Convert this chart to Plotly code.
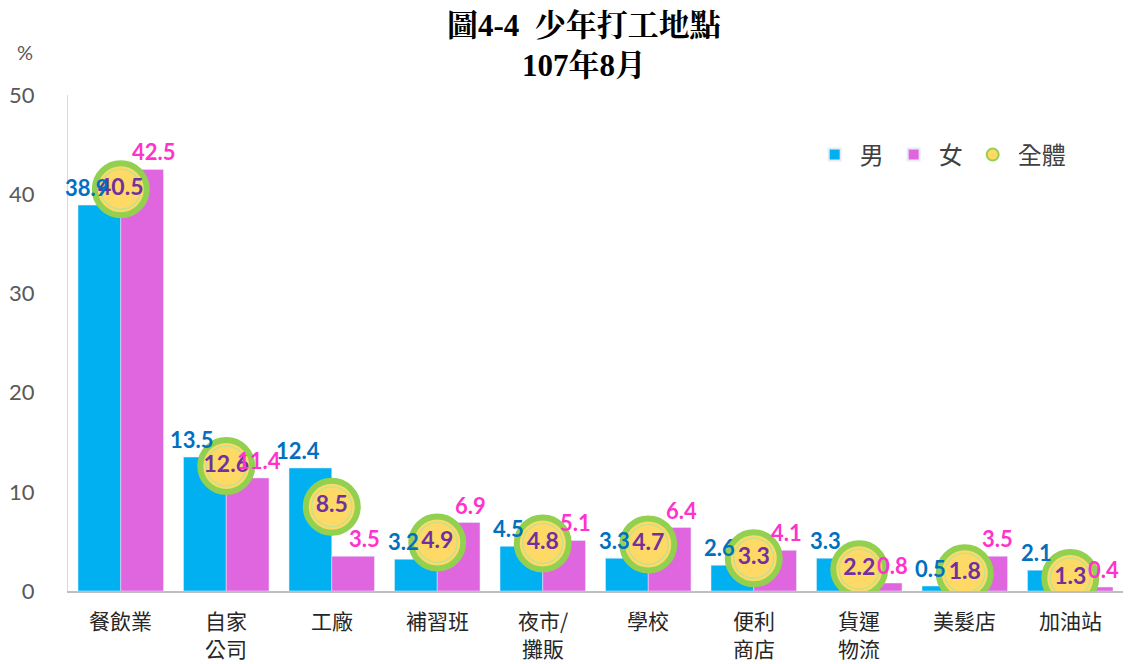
import plotly.graph_objects as go

categories = ["餐飲業", "自家<br>公司", "工廠", "補習班", "夜市/<br>攤販", "學校", "便利<br>商店", "貨運<br>物流", "美髮店", "加油站"]
male = [38.9, 13.5, 12.4, 3.2, 4.5, 3.3, 2.6, 3.3, 0.5, 2.1]
female = [42.5, 11.4, 3.5, 6.9, 5.1, 6.4, 4.1, 0.8, 3.5, 0.4]
total = [40.5, 12.6, 8.5, 4.9, 4.8, 4.7, 3.3, 2.2, 1.8, 1.3]
yticks = [0, 10, 20, 30, 40, 50]

BLUE = "#00B0F0"
MAG = "#E066E0"
BLUE_T = "#0070C0"
MAG_T = "#FF33CC"
PURPLE = "#7030A0"
GREEN = "#92D050"
YELLOW = "#FFD966"

CJK = "Noto Sans CJK TC"
NUM = "Lato, Open Sans, Noto Sans CJK TC"

fig = go.Figure()
fig.add_trace(go.Bar(x=categories, y=male, name="男", marker_color=BLUE))
fig.add_trace(go.Bar(x=categories, y=female, name="女", marker_color=MAG))

# circle markers for 全體
fig.add_trace(go.Scatter(
    x=categories, y=total, mode="markers", name="全體", showlegend=True,
    marker=dict(size=52, color=YELLOW, line=dict(color=GREEN, width=6)),
    hoverinfo="skip"))
fig.add_trace(go.Scatter(
    x=categories, y=total, mode="markers+text", showlegend=False,
    marker=dict(size=40, color=YELLOW, line=dict(color="#C6E08C", width=1.5)),
    text=[f"{v:.1f}" for v in total], textposition="middle center",
    textfont=dict(family=NUM, size=23, color=PURPLE, weight="bold"),
    hoverinfo="skip"))

# value labels for bars
for c, v in zip(categories, male):
    fig.add_annotation(x=c, y=v, text=f"{v:.1f}", showarrow=False, xref="x", yref="y",
                       xshift=-34, yanchor="bottom", yshift=2,
                       font=dict(family=NUM, size=22, color=BLUE_T, weight="bold"))
for c, v in zip(categories, female):
    fig.add_annotation(x=c, y=v, text=f"{v:.1f}", showarrow=False, xref="x", yref="y",
                       xshift=33, yanchor="bottom", yshift=2,
                       font=dict(family=NUM, size=22, color=MAG_T, weight="bold"))

# category labels (one annotation per line)
for c in categories:
    for i, line in enumerate(c.split("<br>")):
        fig.add_annotation(x=c, y=0, xref="x", yref="paper", text=line, showarrow=False,
                           xanchor="center", yanchor="middle", yshift=-29 - 28 * i,
                           font=dict(family=CJK, size=21, color="#262626"))

fig.add_annotation(x=0.489, y=1.0, xref="paper", yref="paper", yanchor="bottom", yshift=10,
                   text="<b>圖4-4  少年打工地點</b><br><b>107年8月</b>", showarrow=False,
                   font=dict(family="Liberation Serif, Noto Serif CJK TC, " + CJK, size=31, color="#000000"))
fig.add_annotation(x=-0.041, y=1.087, xref="paper", yref="paper", text="%", showarrow=False,
                   xanchor="center", yanchor="middle",
                   font=dict(family=NUM, size=20, color="#595959"))

fig.update_layout(
    width=1123, height=656,
    margin=dict(l=60, r=8, t=87, b=73, autoexpand=False),
    paper_bgcolor="white", plot_bgcolor="white",
    barmode="group", bargap=0.19, bargroupgap=0,
    showlegend=True,
    legend=dict(orientation="h", x=0.703, y=0.879, yanchor="middle", xanchor="left",
                font=dict(family=CJK, size=24, color="#404040"), itemsizing="constant",
                bgcolor="rgba(0,0,0,0)", itemwidth=40, tracegroupgap=0),
)
fig.update_xaxes(range=[-0.5, 9.5], showline=True, linecolor="#BFBFBF", linewidth=2, ticks="",
                 automargin=False, showticklabels=False, showgrid=False)
fig.update_yaxes(range=[0, 50], tickvals=yticks, showline=True, linecolor="#D9D9D9", linewidth=1,
                 showgrid=False, zeroline=False, ticks="", ticklabelstandoff=28, automargin=False,
                 tickfont=dict(family=NUM, size=22, color="#595959"))

fig.write_html("out.html")
